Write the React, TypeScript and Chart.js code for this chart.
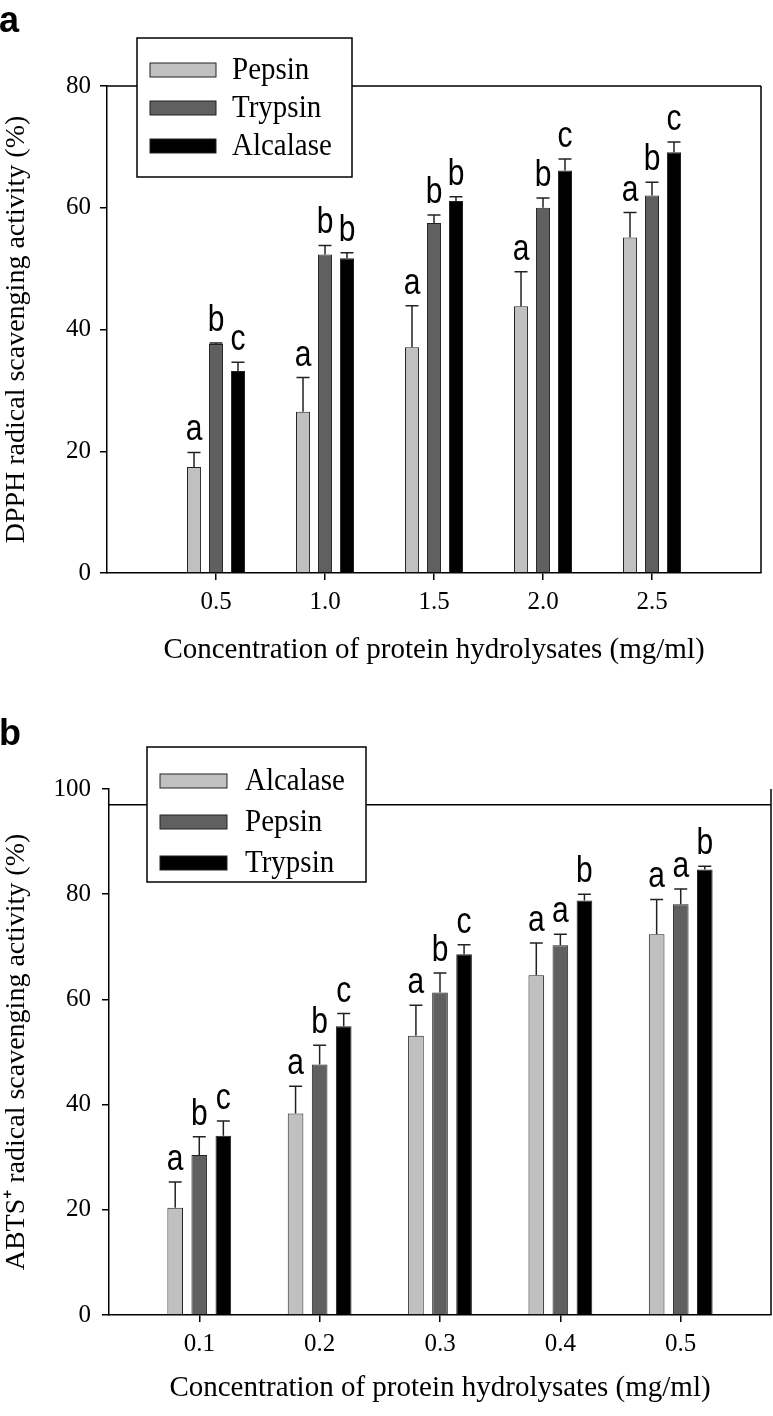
import React, { useEffect, useRef } from 'react';
import { Chart, registerables } from 'chart.js';

Chart.register(...registerables);

// ---------- Data: panel a (DPPH) ----------
const X_A = [0.5, 1.0, 1.5, 2.0, 2.5];
const PEPSIN_A = [17.4, 26.5, 37.1, 43.8, 55.1];
const PEPSIN_A_ERR = [2.4, 5.6, 6.8, 5.7, 4.1];
const PEPSIN_A_LETTERS = ['a', 'a', 'a', 'a', 'a'];
const TRYPSIN_A = [37.6, 52.3, 57.5, 60.0, 62.0];
const TRYPSIN_A_ERR = [0.2, 1.5, 1.3, 1.6, 2.2];
const TRYPSIN_A_LETTERS = ['b', 'b', 'b', 'b', 'b'];
const ALCALASE_A = [33.2, 51.7, 61.1, 66.1, 69.1];
const ALCALASE_A_ERR = [1.4, 0.9, 0.7, 1.9, 1.7];
const ALCALASE_A_LETTERS = ['c', 'b', 'b', 'c', 'c'];
const Y_TICKS_A = [0, 20, 40, 60, 80];

// ---------- Data: panel b (ABTS+) ----------
const X_B = [0.1, 0.2, 0.3, 0.4, 0.5];
const ALCALASE_B = [20.4, 38.3, 53.1, 64.6, 72.4];
const ALCALASE_B_ERR = [4.9, 5.2, 5.8, 6.1, 6.6];
const ALCALASE_B_LETTERS = ['a', 'a', 'a', 'a', 'a'];
const PEPSIN_B = [30.4, 47.6, 61.3, 70.3, 78.1];
const PEPSIN_B_ERR = [3.5, 3.7, 3.7, 2.1, 2.9];
const PEPSIN_B_LETTERS = ['b', 'b', 'b', 'a', 'a'];
const TRYPSIN_B = [34.1, 54.9, 68.6, 78.8, 84.7];
const TRYPSIN_B_ERR = [2.8, 2.4, 1.8, 1.2, 0.6];
const TRYPSIN_B_LETTERS = ['c', 'c', 'c', 'b', 'b'];
const Y_TICKS_B = [0, 20, 40, 60, 80, 100];

const X_TITLE = 'Concentration of protein hydrolysates (mg/ml)';
const Y_TITLE_A = 'DPPH radical scavenging activity (%)';
const Y_TITLE_B = 'ABTS\u207A radical scavenging activity (%)';

// ---------- Styles ----------
const SERIF = '"Liberation Serif", "Times New Roman", serif';
const SANS = '"Liberation Sans", Arial, sans-serif';
const LIGHT = '#c0c0c0';
const DARK = '#606060';
const BLACK = '#000000';
const EDGE = '#222222';

const W = 773;
const H = 708;

type Series = { label: string; values: number[]; errors: number[]; letters: string[]; color: string };

type Panel = {
  label: string;
  xValues: number[];
  xMin: number;
  xMax: number;
  yTicks: number[];
  yMax: number;
  topLine: number;
  yTitle: string;
  series: Series[];
  area: { left: number; right: number; top: number; bottom: number };
  yTickPad: number;
  xTitlePad: number;
  catPct: number;
  barPct: number;
  legend: { x0: number; y0: number; x1: number; y1: number; swX0: number; swX1: number; textX: number; rows: number[] };
  labelBaseline: number;
};

const PANEL_A: Panel = {
  label: 'a',
  xValues: X_A,
  xMin: 0,
  xMax: 3,
  yTicks: Y_TICKS_A,
  yMax: 80,
  topLine: 80,
  yTitle: Y_TITLE_A,
  series: [
    { label: 'Pepsin', values: PEPSIN_A, errors: PEPSIN_A_ERR, letters: PEPSIN_A_LETTERS, color: LIGHT },
    { label: 'Trypsin', values: TRYPSIN_A, errors: TRYPSIN_A_ERR, letters: TRYPSIN_A_LETTERS, color: DARK },
    { label: 'Alcalase', values: ALCALASE_A, errors: ALCALASE_A_ERR, letters: ALCALASE_A_LETTERS, color: BLACK },
  ],
  area: { left: 107, right: 761, top: 86, bottom: 573 },
  yTickPad: 9,
  xTitlePad: 40,
  catPct: 0.605,
  barPct: 0.64,
  legend: { x0: 137, y0: 38, x1: 352, y1: 177, swX0: 150, swX1: 216, textX: 232, rows: [70, 108, 146] },
  labelBaseline: 32,
};

const PANEL_B: Panel = {
  label: 'b',
  xValues: X_B,
  xMin: 0.025,
  xMax: 0.575,
  yTicks: Y_TICKS_B,
  yMax: 100,
  topLine: 97,
  yTitle: Y_TITLE_B,
  series: [
    { label: 'Alcalase', values: ALCALASE_B, errors: ALCALASE_B_ERR, letters: ALCALASE_B_LETTERS, color: LIGHT },
    { label: 'Pepsin', values: PEPSIN_B, errors: PEPSIN_B_ERR, letters: PEPSIN_B_LETTERS, color: DARK },
    { label: 'Trypsin', values: TRYPSIN_B, errors: TRYPSIN_B_ERR, letters: TRYPSIN_B_LETTERS, color: BLACK },
  ],
  area: { left: 109, right: 771, top: 81, bottom: 607 },
  yTickPad: 11,
  xTitlePad: 10,
  catPct: 0.6,
  barPct: 0.65,
  legend: { x0: 147, y0: 39, x1: 366, y1: 174, swX0: 160, swX1: 227, textX: 245, rows: [73, 114, 155] },
  labelBaseline: 37,
};

function makeDecorPlugin(p: Panel) {
  return {
    id: 'decor' + p.label,
    afterDatasetsDraw(chart: any) {
      const ctx = chart.ctx;
      const yScale = chart.scales.y;
      ctx.save();
      chart.data.datasets.forEach((ds: any, di: number) => {
        const meta = chart.getDatasetMeta(di);
        const s = p.series[di];
        meta.data.forEach((el: any, j: number) => {
          const top = yScale.getPixelForValue(s.values[j] + s.errors[j]);
          const x = el.x;
          ctx.strokeStyle = EDGE;
          ctx.lineWidth = 1.5;
          ctx.beginPath();
          ctx.moveTo(x, el.y);
          ctx.lineTo(x, top);
          ctx.moveTo(x - 6.5, top);
          ctx.lineTo(x + 6.5, top);
          ctx.stroke();
          ctx.save();
          ctx.translate(x, top - 12);
          ctx.scale(1, 1.22);
          ctx.fillStyle = '#000';
          ctx.font = `30px ${SANS}`;
          ctx.textAlign = 'center';
          ctx.textBaseline = 'alphabetic';
          ctx.fillText(s.letters[j], 0, 0);
          ctx.restore();
        });
      });
      ctx.restore();
    },
    afterDraw(chart: any) {
      const ctx = chart.ctx;
      const a = chart.chartArea;
      const yScale = chart.scales.y;
      ctx.save();
      // frame: top line and right line
      ctx.strokeStyle = '#000';
      ctx.lineWidth = 1.5;
      const ty = yScale.getPixelForValue(p.topLine);
      ctx.beginPath();
      ctx.moveTo(a.left, ty);
      ctx.lineTo(a.right, ty);
      ctx.moveTo(a.right, a.top);
      ctx.lineTo(a.right, a.bottom);
      ctx.stroke();
      // legend box
      const L = p.legend;
      ctx.fillStyle = '#fff';
      ctx.fillRect(L.x0, L.y0, L.x1 - L.x0, L.y1 - L.y0);
      ctx.strokeRect(L.x0, L.y0, L.x1 - L.x0, L.y1 - L.y0);
      chart.data.datasets.forEach((ds: any, i: number) => {
        const cy = L.rows[i];
        ctx.fillStyle = ds.backgroundColor;
        ctx.fillRect(L.swX0, cy - 7, L.swX1 - L.swX0, 14);
        ctx.lineWidth = 1;
        ctx.strokeStyle = EDGE;
        ctx.strokeRect(L.swX0, cy - 7, L.swX1 - L.swX0, 14);
        ctx.save();
        ctx.translate(L.textX, cy + 1);
        ctx.scale(1, 1.1);
        ctx.fillStyle = '#000';
        ctx.font = `29px ${SERIF}`;
        ctx.textAlign = 'left';
        ctx.textBaseline = 'middle';
        ctx.fillText(ds.label, 0, 0);
        ctx.restore();
      });
      // panel label
      ctx.fillStyle = '#000';
      ctx.font = `bold 36px ${SANS}`;
      ctx.textAlign = 'left';
      ctx.textBaseline = 'alphabetic';
      ctx.fillText(p.label, -1, p.labelBaseline);
      ctx.restore();
    },
  };
}

function makeConfig(p: Panel): any {
  const tickW = { color: '#000', lineWidth: 1.5 };
  return {
    type: 'bar',
    data: {
      datasets: p.series.map((s) => ({
        label: s.label,
        data: p.xValues.map((x, i) => ({ x, y: s.values[i] })),
        backgroundColor: s.color,
        borderColor: EDGE,
        borderWidth: 1,
        categoryPercentage: p.catPct,
        barPercentage: p.barPct,
      })),
    },
    options: {
      responsive: false,
      animation: false,
      events: [],
      layout: { padding: { left: 0, top: p.area.top, right: W - p.area.right, bottom: 0 } },
      plugins: { legend: { display: false }, tooltip: { enabled: false }, title: { display: false } },
      scales: {
        x: {
          type: 'linear',
          min: p.xMin,
          max: p.xMax,
          offset: false,
          afterBuildTicks: (scale: any) => {
            scale.ticks = p.xValues.map((v) => ({ value: v }));
          },
          afterFit: (scale: any) => {
            scale.height = H - p.area.bottom;
          },
          grid: { display: true, drawOnChartArea: false, drawTicks: true, tickLength: 7, offset: false, ...tickW },
          border: { display: true, color: '#000', width: 1.5 },
          ticks: {
            padding: 7,
            maxRotation: 0,
            autoSkip: false,
            color: '#000',
            font: { family: SERIF, size: 25 },
            callback: (v: any) => Number(v).toFixed(1),
          },
          title: {
            display: true,
            text: X_TITLE,
            color: '#000',
            font: { family: SERIF, size: 29 },
            padding: { top: 0, bottom: p.xTitlePad },
          },
        },
        y: {
          type: 'linear',
          min: 0,
          max: p.yMax,
          afterBuildTicks: (scale: any) => {
            scale.ticks = p.yTicks.map((v) => ({ value: v }));
          },
          afterFit: (scale: any) => {
            scale.width = p.area.left;
          },
          grid: { display: true, drawOnChartArea: false, drawTicks: true, tickLength: 7, ...tickW },
          border: { display: true, color: '#000', width: 1.5 },
          ticks: {
            padding: p.yTickPad,
            color: '#000',
            font: { family: SERIF, size: 25 },
            callback: (v: any) => String(v),
          },
          title: {
            display: true,
            text: p.yTitle,
            color: '#000',
            font: { family: SERIF, size: 28 },
            padding: { top: 0, bottom: 0 },
          },
        },
      },
    },
    plugins: [makeDecorPlugin(p)],
  };
}

function PanelChart({ panel, top }: { panel: Panel; top: number }) {
  const ref = useRef<HTMLCanvasElement | null>(null);
  useEffect(() => {
    if (!ref.current) return;
    const chart = new Chart(ref.current, makeConfig(panel));
    return () => chart.destroy();
  }, [panel]);
  return (
    <canvas
      ref={ref}
      width={W}
      height={H}
      style={{ position: 'absolute', left: 0, top, width: W, height: H, display: 'block' }}
    />
  );
}

export default function App() {
  return (
    <div style={{ position: 'absolute', left: 0, top: 0, width: W, height: 1416, background: '#fff' }}>
      <PanelChart panel={PANEL_A} top={0} />
      <PanelChart panel={PANEL_B} top={708} />
    </div>
  );
}
